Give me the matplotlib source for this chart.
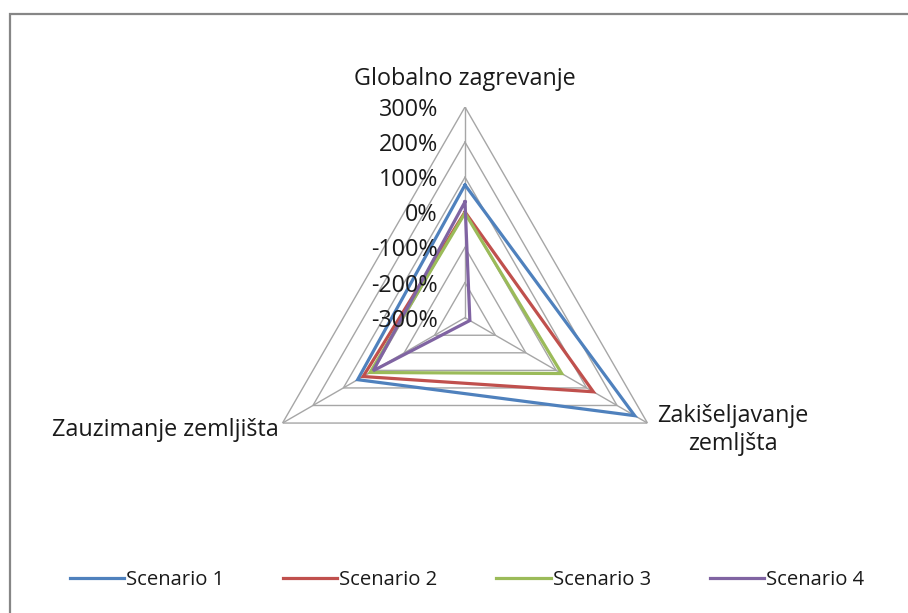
import numpy as np
import matplotlib
matplotlib.use("Agg")
import matplotlib.pyplot as plt
from matplotlib.patches import Rectangle

categories = ["Globalno zagrevanje", "Zakišeljavanje\nzemljšta", "Zauzimanje zemljišta"]
series_names = ["Scenario 1", "Scenario 2", "Scenario 3", "Scenario 4"]
scenario1 = [78, 258, 53]
scenario2 = [1, 122, 35]
scenario3 = [-2, 18, 12]
scenario4 = [30, -284, 2]
rings = [-300, -200, -100, 0, 100, 200, 300]
ring_labels = ["-300%", "-200%", "-100%", "0%", "100%", "200%", "300%"]
colors = ["#4F81BD", "#C0504D", "#9BBB59", "#8064A2"]

plt.rcParams['font.family'] = ['Open Sans', 'DejaVu Sans']

W, H = 908, 613
fig = plt.figure(figsize=(W / 100, H / 100), dpi=100)
cx, cy, R = 465, 317.7, 210.7
ax = fig.add_axes([(cx - R) / W, (H - cy - R) / H, 2 * R / W, 2 * R / H], projection='polar')
ax.set_theta_offset(np.pi / 2)
ax.set_theta_direction(-1)
ax.set_ylim(-300, 300)
ax.grid(False)
ax.spines['polar'].set_visible(False)
ax.set_xticks([])
ax.set_yticks([])
ax.patch.set_alpha(0)

n = len(categories)
angles = [2 * np.pi * i / n for i in range(n)]
closed = angles + angles[:1]

grid_col = "#A6A6A6"
for r in rings[1:]:
    ax.plot(closed, [r] * (n + 1), color=grid_col, lw=1.0, zorder=1)
for a in angles:
    ax.plot([a, a], [-300, 300], color=grid_col, lw=1.0, zorder=1)

for name, vals, c in zip(series_names, [scenario1, scenario2, scenario3, scenario4], colors):
    ax.plot(closed, list(vals) + [vals[0]], color=c, lw=2.3, label=name, zorder=3,
            solid_joinstyle='miter')

fs = 16.8
txt = '#1a1a1a'
for r, lab in zip(rings, ring_labels):
    ax.annotate(lab, xy=(0, r), xytext=(-27, -3), textcoords='offset pixels',
                ha='right', va='center', fontsize=fs, color=txt, annotation_clip=False)

ax.annotate(categories[0], xy=(angles[0], 300), xytext=(0, 28), textcoords='offset pixels',
            ha='center', va='center', fontsize=fs, color=txt, annotation_clip=False)
ax.annotate(categories[1], xy=(angles[1], 300), xytext=(10, -7), textcoords='offset pixels',
            ha='left', va='center', multialignment='center', fontsize=fs, color=txt,
            linespacing=1.2, annotation_clip=False)
ax.annotate(categories[2], xy=(angles[2], 300), xytext=(-4, -7), textcoords='offset pixels',
            ha='right', va='center', fontsize=fs, color=txt, annotation_clip=False)

leg = fig.legend(loc='center', bbox_to_anchor=(467 / W, 1 - 580 / H), ncol=4, frameon=False,
                 fontsize=14.6, handlelength=2.68, handletextpad=0.1, columnspacing=2.9)
for t in leg.get_texts():
    t.set_color(txt)

fig.patches.append(Rectangle((10 / W, -0.1), 1.2, 1.1 - 14 / H, transform=fig.transFigure,
                             fill=False, edgecolor='#868686', lw=1.6, clip_on=False))

fig.savefig("out.png", dpi=100)
